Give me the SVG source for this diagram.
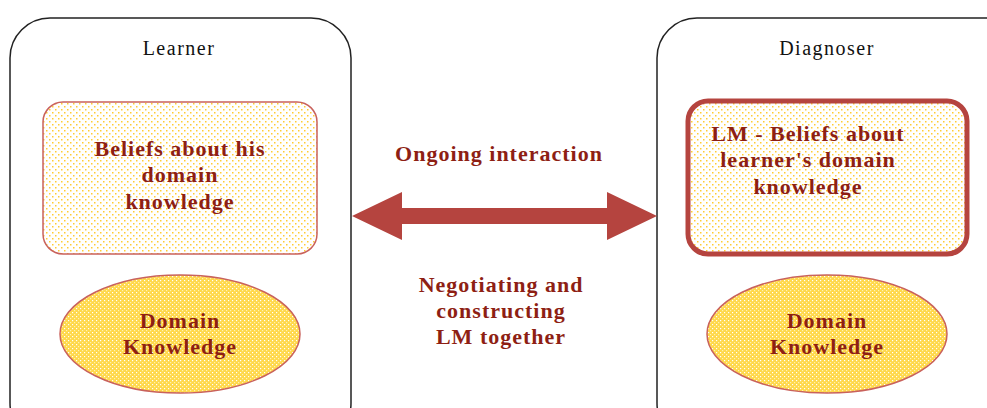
<svg xmlns="http://www.w3.org/2000/svg" width="987" height="408" viewBox="0 0 987 408">
<defs>
<pattern id="dots" width="6" height="6" patternUnits="userSpaceOnUse">
<rect width="6" height="6" fill="#ffffff"/>
<rect x="1" y="1" width="1.5" height="1.5" fill="#ffcc33"/>
<rect x="4" y="4" width="1.5" height="1.5" fill="#ffcc33"/>
</pattern>
<pattern id="cross" width="4" height="4" patternUnits="userSpaceOnUse">
<rect width="4" height="4" fill="#ffd84a"/>
<rect x="0" y="0" width="1.2" height="1.2" fill="#ffffff"/>
<rect x="2" y="2" width="1.2" height="1.2" fill="#fff2b0"/>
</pattern>
<style>
.outer{fill:#ffffff;stroke:#222222;stroke-width:1.5}
.title{font-family:"Liberation Serif",serif;font-size:20px;fill:#111111;text-anchor:middle;letter-spacing:1.5px}
.lbl{font-family:"Liberation Serif",serif;font-size:22px;font-weight:bold;fill:#8e1f14;text-anchor:middle;letter-spacing:1px}
.inner{fill:url(#dots);stroke:#c9625c;stroke-width:1.5}
.ell{fill:url(#cross);stroke:#c9625c;stroke-width:1.5}
</style>
</defs>
<rect width="987" height="408" fill="#ffffff"/>
<g id="learner">
<rect class="outer" x="10" y="18" width="341" height="425" rx="40" ry="40"/>
<text class="title" x="179" y="55">Learner</text>
</g>
<g id="diagnoser">
<rect class="outer" x="657" y="18" width="370" height="425" rx="40" ry="40"/>
<text class="title" x="827" y="55">Diagnoser</text>
</g>
<g id="learner-beliefs">
<rect class="inner" x="43" y="102" width="274" height="152" rx="20" ry="20"/>
<text class="lbl" x="180" y="156">Beliefs about his</text>
<text class="lbl" x="180" y="182">domain</text>
<text class="lbl" x="180" y="209">knowledge</text>
</g>
<g id="learner-domain">
<ellipse class="ell" cx="180" cy="334" rx="120" ry="59"/>
<text class="lbl" x="180" y="328">Domain</text>
<text class="lbl" x="180" y="354">Knowledge</text>
</g>
<g id="lm-beliefs">
<rect x="688" y="101" width="279" height="153" rx="20" ry="20" fill="url(#dots)" stroke="#b5443f" stroke-width="5"/>
<text class="lbl" x="808" y="141">LM - Beliefs about</text>
<text class="lbl" x="808" y="167">learner's domain</text>
<text class="lbl" x="808" y="194">knowledge</text>
</g>
<g id="diagnoser-domain">
<ellipse class="ell" cx="827" cy="334" rx="120" ry="59"/>
<text class="lbl" x="827" y="328">Domain</text>
<text class="lbl" x="827" y="354">Knowledge</text>
</g>
<g id="connectors">
<polygon points="352,216 402,192 402,208 607,208 607,192 657,216 607,240 607,224 402,224 402,240" fill="#b5443f"/>
<text class="lbl" x="499" y="161">Ongoing interaction</text>
<text class="lbl" x="501" y="292">Negotiating and</text>
<text class="lbl" x="501" y="318">constructing</text>
<text class="lbl" x="501" y="344">LM together</text>
</g>
</svg>
